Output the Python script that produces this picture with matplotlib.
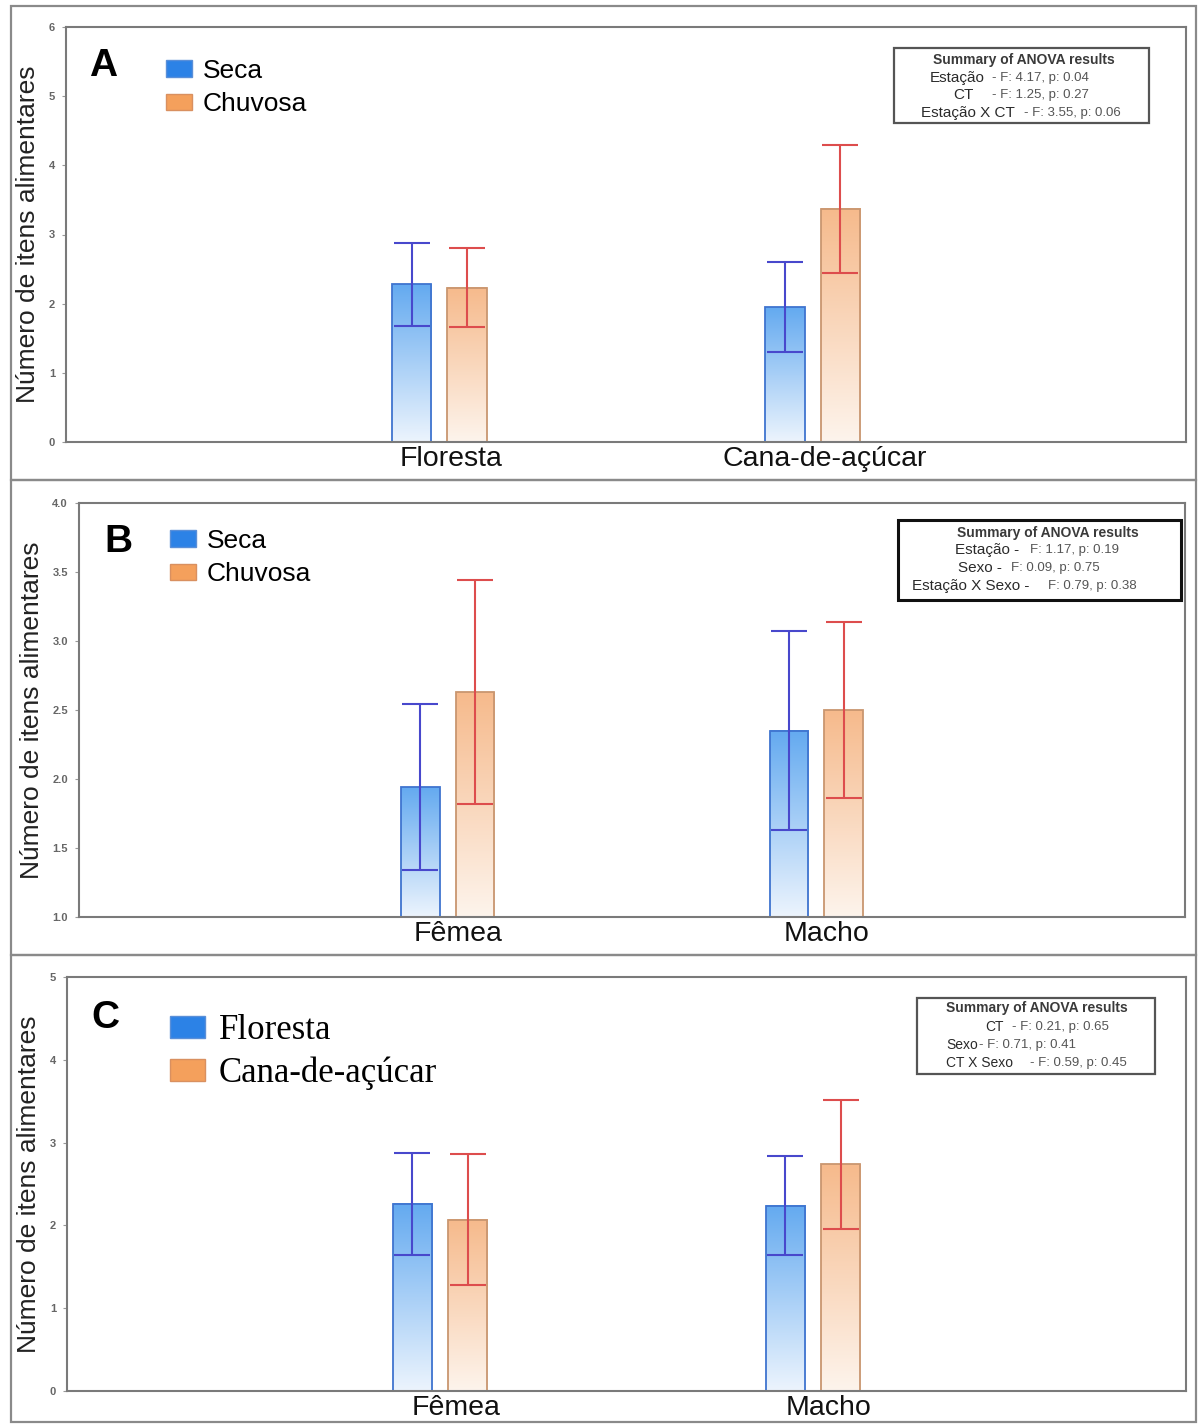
import matplotlib.pyplot as plt
import numpy as np
from matplotlib.patches import Rectangle, Patch
from matplotlib.transforms import ScaledTranslation

# data (mean and half-width of error bar)
groups_A = ['Floresta', 'Cana-de-açúcar']
seca_A_mean = [2.28, 1.95]
seca_A_err = [0.60, 0.65]
chuv_A_mean = [2.23, 3.37]
chuv_A_err = [0.57, 0.93]

groups_B = ['Fêmea', 'Macho']
seca_B_mean = [1.94, 2.35]
seca_B_err = [0.60, 0.72]
chuv_B_mean = [2.63, 2.50]
chuv_B_err = [0.81, 0.64]

groups_C = ['Fêmea', 'Macho']
flor_C_mean = [2.26, 2.24]
flor_C_err = [0.62, 0.60]
cana_C_mean = [2.07, 2.74]
cana_C_err = [0.79, 0.78]

yticks_A = [0, 1, 2, 3, 4, 5, 6]
yticks_B = [1.0, 1.5, 2.0, 2.5, 3.0, 3.5, 4.0]
yticks_C = [0, 1, 2, 3, 4, 5]

W, H = 1198, 1425
fig = plt.figure(figsize=(W / 100, H / 100), dpi=100)
plt.rcParams['font.family'] = ['Liberation Sans', 'DejaVu Sans']

BLUE_TOP = np.array([100, 170, 240]) / 255
BLUE_BOT = np.array([236, 244, 253]) / 255
ORG_TOP = np.array([246, 186, 140]) / 255
ORG_BOT = np.array([253, 244, 236]) / 255
BLUE_EDGE = '#3f74cf'
ORG_EDGE = '#c99670'
BLUE_ERR = '#4848cc'
RED_ERR = '#dd4d4d'


def px_rect(l, t, r, b):
    return [l / W, 1 - b / H, (r - l) / W, (b - t) / H]


def frame(l, t, r, b):
    fig.add_artist(Rectangle((l / W, 1 - b / H), (r - l) / W, (b - t) / H,
                             transform=fig.transFigure, fill=False,
                             edgecolor='#8a8a8a', linewidth=1.6))


def gradient_bars(ax, rects, top_c, bot_c):
    y0 = ax.get_ylim()[0]
    for r in rects:
        x = r.get_x()
        w = r.get_width()
        top = r.get_height()
        t = np.linspace(0, 1, 100)[:, None]
        img = bot_c[None, :] * (1 - t) + top_c[None, :] * t
        ax.imshow(img[:, None, :], extent=[x, x + w, y0, top], origin='lower',
                  aspect='auto', zorder=1, interpolation='bilinear')


def panel(rect, groups, m1, e1, m2, e2, ylim, yticks, ylabels, letter,
          leg_labels, leg_font, leg_xy, leg_space, anova, box, lab_offset,
          lab_size):
    ax = fig.add_axes(px_rect(*rect))
    ax.set_xlim(-1, 2)
    ax.set_ylim(*ylim)
    x = np.arange(len(groups))
    off, bw = 0.074, 0.105
    r1 = ax.bar(x - off, m1, bw, facecolor='none', edgecolor=BLUE_EDGE,
                linewidth=1.3, zorder=2)
    r2 = ax.bar(x + off, m2, bw, facecolor='none', edgecolor=ORG_EDGE,
                linewidth=1.3, zorder=2)
    gradient_bars(ax, r1, BLUE_TOP, BLUE_BOT)
    gradient_bars(ax, r2, ORG_TOP, ORG_BOT)
    ax.errorbar(x - off, m1, yerr=e1, fmt='none', ecolor=BLUE_ERR,
                elinewidth=1.5, capsize=13, capthick=1.5, zorder=3)
    ax.errorbar(x + off, m2, yerr=e2, fmt='none', ecolor=RED_ERR,
                elinewidth=1.5, capsize=13, capthick=1.5, zorder=3)
    ax.set_xlim(-1, 2)
    ax.set_ylim(*ylim)

    ax.set_xticks(x)
    ax.set_xticklabels(groups, fontsize=20.5, color='#111')
    ax.tick_params(axis='x', length=0, pad=3)
    for lbl in ax.get_xticklabels():
        lbl.set_transform(lbl.get_transform() +
                          ScaledTranslation(lab_offset / 100, 0, fig.dpi_scale_trans))
    ax.set_yticks(yticks)
    ax.set_yticklabels(ylabels, fontsize=8, color='#666', fontweight='bold')
    ax.tick_params(axis='y', length=3, color='#999', pad=5)
    for s in ax.spines.values():
        s.set_color('#7a7a7a')
        s.set_linewidth(1.5)
    ax.set_ylabel('Número de itens alimentares', fontsize=19, color='#222',
                  labelpad=6)

    fig.text(letter[1] / W, 1 - letter[2] / H, letter[0], fontsize=28,
             fontweight='bold', ha='left', va='center')

    handles = [Patch(facecolor='#2c82e6', edgecolor='#5a8fd8'),
               Patch(facecolor='#f4a05c', edgecolor='#d99060')]
    ax.legend(handles, leg_labels, loc='upper left',
              bbox_to_anchor=(leg_xy[0] / W, 1 - leg_xy[1] / H),
              bbox_transform=fig.transFigure, frameon=False,
              prop=leg_font, handlelength=1.0, handleheight=0.6,
              handletextpad=0.4, labelspacing=leg_space, borderpad=0,
              borderaxespad=0)

    bl, bt, br, bb, lw, ec = box
    fig.add_artist(Rectangle((bl / W, 1 - bb / H), (br - bl) / W, (bb - bt) / H,
                             transform=fig.transFigure, facecolor='white',
                             edgecolor=ec, linewidth=lw))
    title_x, title_y = anova[0]
    fig.text(title_x / W, 1 - title_y / H, 'Summary of ANOVA results',
             fontsize=10, fontweight='bold', color='#3a3a3a', ha='center',
             va='center')
    for lab, lx, ha, stat, sx, y in anova[1:]:
        fig.text(lx / W, 1 - y / H, lab, fontsize=lab_size, color='#2a2a2a',
                 ha=ha, va='center')
        fig.text(sx / W, 1 - y / H, stat, fontsize=9.5, color='#555',
                 ha='left', va='center')
    return ax


frame(11, 6, 1196, 480)
frame(11, 480, 1196, 955)
frame(11, 955, 1196, 1422)

sans_leg = {'family': 'Liberation Sans', 'size': 19}
serif_leg = {'family': 'Liberation Serif', 'size': 25}

panel((66, 27, 1186, 442), groups_A, seca_A_mean, seca_A_err, chuv_A_mean,
      chuv_A_err, (0, 6), yticks_A, [str(v) for v in yticks_A],
      ('A', 89, 66), ['Seca', 'Chuvosa'], sans_leg, (166, 59), 0.35,
      [(1024, 60),
       ('Estação', 957, 'center', '- F: 4.17, p: 0.04', 992, 78),
       ('CT', 963, 'center', '- F: 1.25, p: 0.27', 992, 95),
       ('Estação X CT', 968, 'center', '- F: 3.55, p: 0.06', 1024, 113)],
      (894, 48, 1149, 123, 1.6, '#555'), 12, 11)

panel((79, 503, 1185, 917), groups_B, seca_B_mean, seca_B_err, chuv_B_mean,
      chuv_B_err, (1.0, 4.0), yticks_B, ['%.1f' % v for v in yticks_B],
      ('B', 104, 542), ['Seca', 'Chuvosa'], sans_leg, (170, 529), 0.35,
      [(1048, 533),
       ('Estação -', 955, 'left', 'F: 1.17, p: 0.19', 1030, 550),
       ('Sexo -', 958, 'left', 'F: 0.09, p: 0.75', 1011, 568),
       ('Estação X Sexo -', 912, 'left', 'F: 0.79, p: 0.38', 1048, 586)],
      (898, 520, 1181, 600, 2.2, '#111'), 10, 11)

panel((67, 977, 1186, 1391), groups_C, flor_C_mean, flor_C_err, cana_C_mean,
      cana_C_err, (0, 5), yticks_C, [str(v) for v in yticks_C],
      ('C', 91, 1018), ['Floresta', 'Cana-de-açúcar'], serif_leg, (170, 1014),
      0.28,
      [(1037, 1008),
       ('CT', 985, 'left', '- F: 0.21, p: 0.65', 1012, 1027),
       ('Sexo', 946, 'left', '- F: 0.71, p: 0.41', 979, 1045),
       ('CT X Sexo', 946, 'left', '- F: 0.59, p: 0.45', 1030, 1063)],
      (917, 998, 1155, 1074, 1.6, '#555'), 16, 10)

fig.savefig('out.png', dpi=100, facecolor='white')
